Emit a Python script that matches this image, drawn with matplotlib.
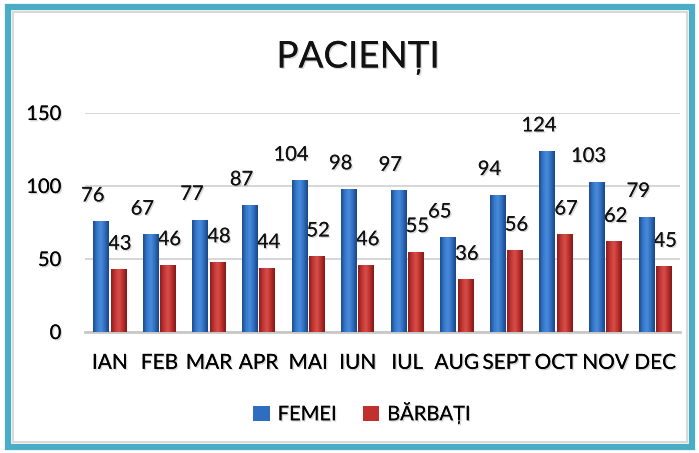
import matplotlib
matplotlib.use("Agg")
import matplotlib.pyplot as plt
from matplotlib.patches import Rectangle
from matplotlib.colors import LinearSegmentedColormap
import matplotlib.patheffects as pe
import numpy as np

months = ["IAN", "FEB", "MAR", "APR", "MAI", "IUN", "IUL", "AUG", "SEPT", "OCT", "NOV", "DEC"]
femei = [76, 67, 77, 87, 104, 98, 97, 65, 94, 124, 103, 79]
barbati = [43, 46, 48, 44, 52, 46, 55, 36, 56, 67, 62, 45]
yticks = [0, 50, 100, 150]

plt.rcParams['font.family'] = ['Lato', 'DejaVu Sans']

W, H = 699, 453
fig = plt.figure(figsize=(W / 100, H / 100), dpi=100)
fig.patch.set_facecolor("white")

# teal frame
fig.add_artist(Rectangle((8 / W, 6 / H), 684 / W, 440 / H, transform=fig.transFigure,
                         fill=False, edgecolor="#4BACC6", linewidth=4.5, zorder=0))
fig.add_artist(Rectangle((13 / W, 11 / H), 674 / W, 430 / H, transform=fig.transFigure,
                         fill=False, edgecolor="#d9d9d9", linewidth=1.5, zorder=0))

shadow = [pe.withSimplePatchShadow(offset=(1, -1), shadow_rgbFace="#888888", alpha=0.35), pe.Normal()]

ax = fig.add_axes([85 / W, 1 - 332 / H, 595 / W, (332 - 113) / H])
x = np.arange(len(months))
bw = 0.32
gap = 0.03
c_blue = "#2F6DBE"
c_red = "#C0302E"
b1 = ax.bar(x - bw / 2 - gap / 2, femei, bw, color=c_blue, edgecolor="none", zorder=3, label="FEMEI")
b2 = ax.bar(x + bw / 2 + gap / 2, barbati, bw, color=c_red, edgecolor="none", zorder=3, label="BĂRBAȚI")

cm_blue = LinearSegmentedColormap.from_list("b", ["#1C4A8C", "#3579CC", "#4A8BDB", "#2F6DBE", "#1A4485"])
cm_red = LinearSegmentedColormap.from_list("r", ["#8A1C1B", "#C43633", "#D5504C", "#BC2E2C", "#7F1918"])
grad = np.linspace(0, 1, 64).reshape(1, -1)
for bars, cm in ((b1, cm_blue), (b2, cm_red)):
    for r in bars:
        x0, y0, w, h = r.get_x(), r.get_y(), r.get_width(), r.get_height()
        im = ax.imshow(grad, cmap=cm, extent=(x0, x0 + w, y0, y0 + h), aspect="auto",
                       interpolation="bicubic", zorder=3.5)
        im.set_clip_path(r)

for xi, v in zip(x - bw / 2 - gap / 2, femei):
    ax.annotate(str(v), (xi, v), xytext=(-6, 12), textcoords="offset points",
                ha="center", va="bottom", fontsize=14.5, color="#111111", path_effects=shadow)
for xi, v in zip(x + bw / 2 + gap / 2, barbati):
    ax.annotate(str(v), (xi, v), xytext=(1, 12), textcoords="offset points",
                ha="center", va="bottom", fontsize=14.5, color="#111111", path_effects=shadow)

ax.set_ylim(0, 150)
ax.set_xlim(-0.5, len(months) - 0.5)
ax.set_yticks(yticks)
ax.set_yticklabels([str(t) for t in yticks], fontsize=14.5)
ax.set_xticks(x)
ax.set_xticklabels(months, fontsize=15)
for t in ax.get_xticklabels() + ax.get_yticklabels():
    t.set_path_effects(shadow)
ax.tick_params(axis="both", length=0)
ax.tick_params(axis="x", pad=15)
ax.tick_params(axis="y", pad=17)
ax.grid(axis="y", color="#d0d0d0", linewidth=1.2, zorder=0)
for s in ["top", "right", "left"]:
    ax.spines[s].set_visible(False)
ax.spines["bottom"].set_color("#c8c8c8")
ax.spines["bottom"].set_linewidth(2)
ax.set_facecolor("none")

fig.text(358 / W, 1 - 57 / H, "PACIENȚI", ha="center", va="center", fontsize=26.5,
         color="#111111", path_effects=shadow)

leg = fig.legend(handles=[b1, b2], loc="center", bbox_to_anchor=(362 / W, 1 - 413 / H),
                 ncol=2, frameon=False, fontsize=14.5, handlelength=0.8, handleheight=0.8,
                 columnspacing=1.3, handletextpad=0.4)
for t in leg.get_texts():
    t.set_path_effects(shadow)

fig.savefig("out.png", dpi=100)
